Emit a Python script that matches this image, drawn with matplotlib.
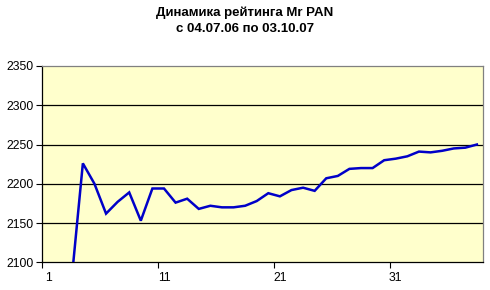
import matplotlib
matplotlib.use("Agg")
import matplotlib.pyplot as plt
import numpy as np

plt.rcParams['font.family'] = ['Liberation Sans', 'DejaVu Sans']

title = "Динамика рейтинга Mr PAN\nс 04.07.06 по 03.10.07"
categories = list(range(1, 39))
rating = [2000, 2030, 2073, 2226, 2200, 2162, 2177, 2189, 2153, 2194,
          2194, 2176, 2181, 2168, 2172, 2170, 2170, 2172, 2178, 2188,
          2184, 2192, 2195, 2191, 2207, 2210, 2219, 2220, 2220, 2230,
          2232, 2235, 2241, 2240, 2242, 2245, 2246, 2250]
xtick_labels = ["1", "11", "21", "31"]
yticks = [2100, 2150, 2200, 2250, 2300, 2350]

W, H = 490, 290
fig = plt.figure(figsize=(W / 100, H / 100), dpi=100)
left, right, top, bottom = 42.3, 482.7, 66, 262.3
ax = fig.add_axes([left / W, 1 - bottom / H, (right - left) / W, (bottom - top) / H])
ax.set_facecolor('#FFFFCC')

pos = np.array(categories) - 0.5
ax.plot(pos, rating, color='#0000C8', lw=1.8, solid_joinstyle='miter', zorder=3)

ax.set_xlim(0, len(categories))
ax.set_ylim(2100, 2350)

ax.set_yticks(yticks)
ax.set_yticklabels([str(v) for v in yticks], fontsize=8.8)
for v in yticks[1:-1]:
    ax.axhline(v, color='black', lw=0.9, zorder=1)

ax.set_xticks([0, 10, 20, 30])
ax.set_xticklabels([])
lab_pos = [categories.index(int(s)) + 0.5 for s in xtick_labels]
ax.set_xticks(lab_pos, minor=True)
ax.set_xticklabels(xtick_labels, minor=True, fontsize=8.8)
ax.tick_params(axis='x', which='minor', length=0, pad=7)
ax.tick_params(axis='x', which='major', length=4, width=0.8, direction='out', color='black')
ax.tick_params(axis='y', length=4, width=0.8, direction='out', color='black', pad=2)

for s in ['left', 'bottom']:
    ax.spines[s].set_color('black')
    ax.spines[s].set_linewidth(0.9)
for s in ['top', 'right']:
    ax.spines[s].set_color('#808080')
    ax.spines[s].set_linewidth(0.9)

fig.text(0.5, 1 - 21 / H, title, ha='center', va='center', fontsize=9.5,
         fontweight='bold', linespacing=1.45)

fig.savefig('out.png', dpi=100)
